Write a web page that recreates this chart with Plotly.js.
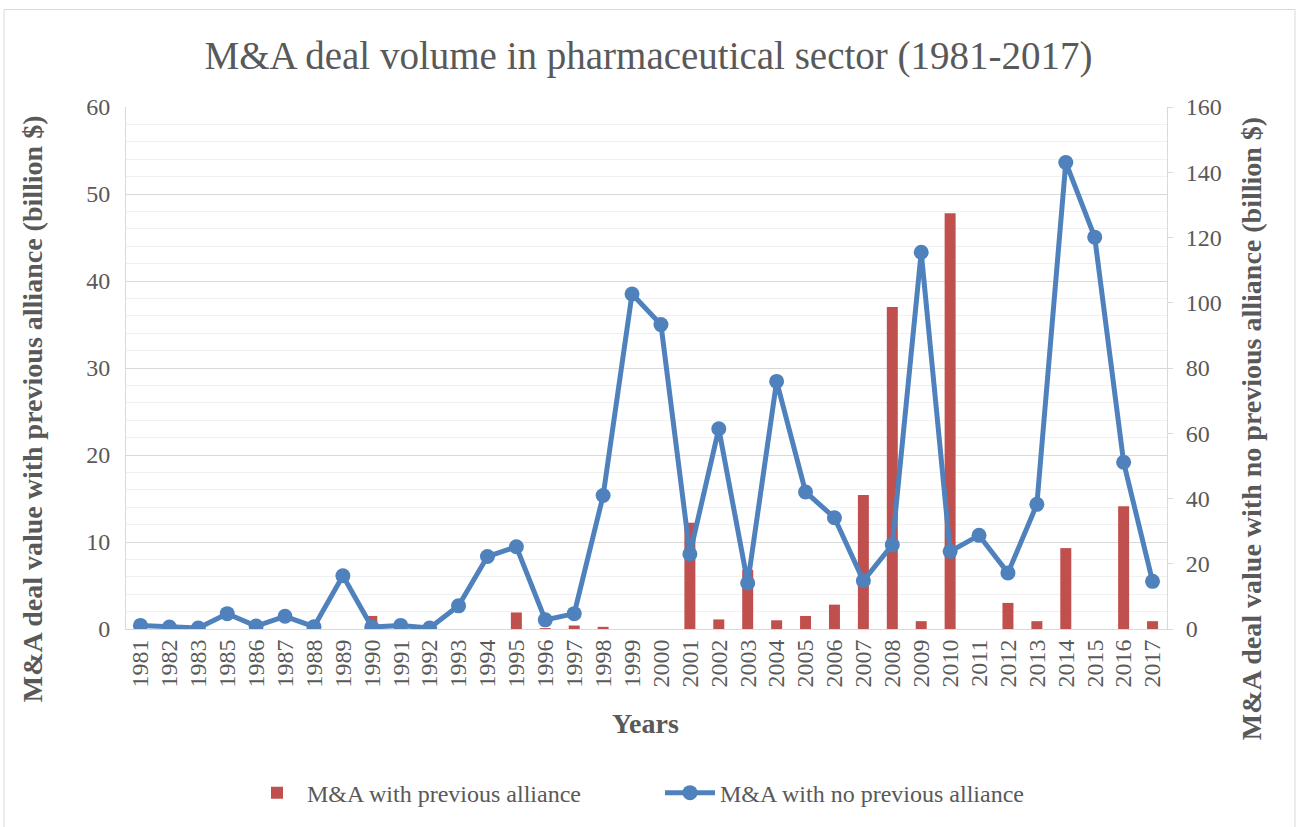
<!DOCTYPE html>
<html>
<head>
<meta charset="utf-8">
<script src="https://cdn.plot.ly/plotly-3.0.1.min.js"></script>
<style>
  html, body { margin: 0; padding: 0; background: #ffffff; }
  #chart { width: 1297px; height: 827px; }
</style>
</head>
<body>
<div id="chart"></div>
<script>
// Years covered (1984 has no record)
const years = ['1981','1982','1983','1985','1986','1987','1988','1989','1990','1991',
  '1992','1993','1994','1995','1996','1997','1998','1999','2000','2001',
  '2002','2003','2004','2005','2006','2007','2008','2009','2010','2011',
  '2012','2013','2014','2015','2016','2017'];

// Deal value with a previous alliance, billion $ (left axis)
const withAlliance = [0, 0, 0, 0, 0, 0, 0, 0, 1.5, 0,
  0, 0, 0, 1.9, 0.1, 0.4, 0.25, 0, 0, 12.2,
  1.1, 6.8, 1.0, 1.5, 2.8, 15.4, 37.0, 0.9, 47.8, 0,
  3.0, 0.9, 9.3, 0, 14.1, 0.9];

// Deal value with no previous alliance, billion $ (right axis)
const noAlliance = [1.1, 0.6, 0.3, 4.7, 0.9, 3.9, 0.7, 16.3, 0.6, 1.1,
  0.3, 7.1, 22.2, 25.2, 2.8, 4.7, 40.9, 102.7, 93.3, 23.0,
  61.4, 14.1, 75.9, 42.0, 34.1, 14.8, 25.8, 115.5, 23.8, 28.7,
  17.2, 38.2, 143.0, 120.1, 51.1, 14.6];

const FONT = '"Liberation Serif", "DejaVu Serif", serif';
const GREY = '#595959';

const traces = [
  {
    type: 'bar',
    name: 'M&A with previous alliance',
    x: years,
    y: withAlliance,
    marker: { color: '#c0504d' },
    yaxis: 'y',
    hoverinfo: 'x+y'
  },
  {
    type: 'scatter',
    mode: 'lines+markers',
    name: 'M&A with no previous alliance',
    x: years,
    y: noAlliance,
    yaxis: 'y2',
    line: { color: '#4f81bd', width: 5 },
    marker: { color: '#4f81bd', size: 15 },
    hoverinfo: 'x+y'
  }
];

const layout = {
  width: 1297,
  height: 827,
  paper_bgcolor: '#ffffff',
  plot_bgcolor: '#ffffff',
  font: { family: FONT, color: GREY, size: 24 },
  margin: { l: 126, r: 130, t: 107, b: 195 },
  bargap: 0.62,
  showlegend: true,
  title: {
    text: 'M&A deal volume in pharmaceutical sector (1981-2017)',
    font: { family: FONT, size: 39, color: GREY },
    x: 0.5, xanchor: 'center',
    y: 1 - 55 / 827, yanchor: 'middle'
  },
  xaxis: {
    type: 'category',
    range: [-0.5, 35.5],
    tickmode: 'array',
    tickvals: years,
    ticktext: years,
    tickangle: -90,
    tickfont: { family: FONT, size: 24, color: GREY },
    showline: true,
    linecolor: '#d9d9d9',
    linewidth: 1,
    ticks: '',
    showgrid: false,
    zeroline: false,
    title: { text: '' }
  },
  yaxis: {
    range: [0, 60],
    dtick: 10,
    tickfont: { family: FONT, size: 24, color: GREY },
    ticklabelstandoff: 10,
    showline: true,
    linecolor: '#d9d9d9',
    gridcolor: '#d9d9d9',
    gridwidth: 1,
    zeroline: false,
    ticks: '',
    minor: { dtick: 2, showgrid: true, gridcolor: '#f0f0f0', gridwidth: 1 },
    title: { text: '' }
  },
  yaxis2: {
    overlaying: 'y',
    side: 'right',
    range: [0, 160],
    dtick: 20,
    tickfont: { family: FONT, size: 24, color: GREY },
    ticklabelstandoff: 8,
    showgrid: false,
    zeroline: false,
    showline: true,
    linecolor: '#d9d9d9',
    ticks: 'outside',
    ticklen: 5,
    tickcolor: '#d9d9d9',
    title: { text: '' }
  },
  legend: {
    orientation: 'h',
    x: (660 - 126) / 1041, xanchor: 'center',
    y: (632 - 797) / 525, yanchor: 'middle',
    font: { family: FONT, size: 24, color: GREY },
    itemwidth: 50,
    entrywidth: 348,
    bgcolor: 'rgba(0,0,0,0)'
  },
  annotations: [
    {
      text: '<b>M&A deal value with previous alliance (billion $)</b>',
      textangle: -90,
      xref: 'paper', yref: 'paper',
      x: (32 - 126) / 1041, y: (632 - 411) / 525,
      xanchor: 'center', yanchor: 'middle',
      showarrow: false,
      font: { family: FONT, size: 28, color: GREY }
    },
    {
      text: '<b>M&A deal value with no previous alliance (billion $)</b>',
      textangle: -90,
      xref: 'paper', yref: 'paper',
      x: (1251 - 126) / 1041, y: (632 - 431) / 525,
      xanchor: 'center', yanchor: 'middle',
      showarrow: false,
      font: { family: FONT, size: 28, color: GREY }
    },
    {
      text: '<b>Years</b>',
      xref: 'paper', yref: 'paper',
      x: (645 - 126) / 1041, y: (632 - 727) / 525,
      xanchor: 'center', yanchor: 'middle',
      showarrow: false,
      font: { family: FONT, size: 28, color: GREY }
    }
  ],
  shapes: [
    {
      type: 'rect',
      xref: 'paper', yref: 'paper',
      x0: (4 - 126) / 1041, x1: (1295 - 126) / 1041,
      y0: (632 - 840) / 525, y1: (632 - 9) / 525,
      line: { color: '#d9d9d9', width: 1 },
      fillcolor: 'rgba(0,0,0,0)',
      layer: 'below'
    }
  ]
};

Plotly.newPlot('chart', traces, layout, { displayModeBar: false, staticPlot: true });
</script>
</body>
</html>
